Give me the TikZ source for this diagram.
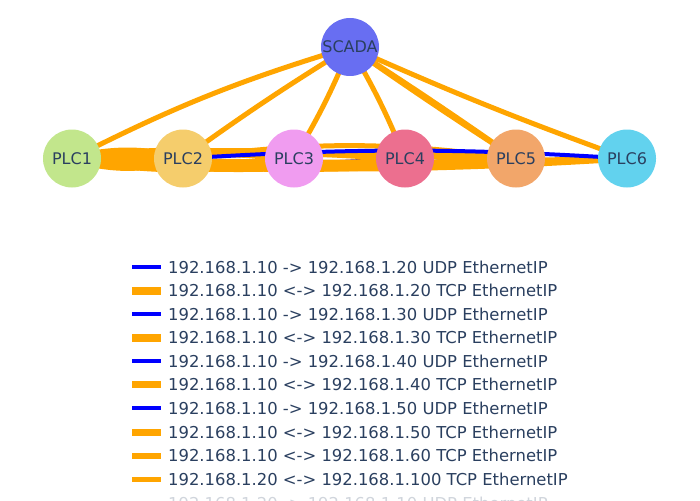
\documentclass[tikz,border=0pt]{standalone}
\usepackage{fontspec}
\setmainfont{DejaVu Sans}
\usetikzlibrary{backgrounds}
\definecolor{txt}{HTML}{2A3F5F}
\definecolor{tcpc}{HTML}{FFA500}
\definecolor{udpc}{HTML}{0000FF}
\definecolor{cS}{HTML}{686EF2}
\definecolor{c1}{HTML}{C2E68C}
\definecolor{c2}{HTML}{F5CD6C}
\definecolor{c3}{HTML}{F09CF0}
\definecolor{c4}{HTML}{EC6F8F}
\definecolor{c5}{HTML}{F2A66A}
\definecolor{c6}{HTML}{62D2EE}
\begin{document}
\begin{tikzpicture}[x=1pt,y=1pt,
  plc/.style={circle,minimum size=58pt,inner sep=0pt,text=txt,font=\fontsize{16}{18}\selectfont},
  tcp/.style={draw=tcpc,line width=#1},
  tcp/.default=5.5pt,
  udp/.style={draw=udpc,line width=4pt},
  lg/.style={anchor=west,inner sep=0pt,text=txt,font=\fontsize{16.4}{20}\selectfont},
  lgudp/.style={draw=udpc,line width=4pt},
  lgtcp/.style={draw=tcpc,line width=#1},
]
\useasboundingbox (0,0) rectangle (700,-500);
% nodes
\node[plc,fill=cS] (scada) at (350,-47) {SCADA};
\node[plc,fill=c1] (p1) at (72,-158.5) {PLC1};
\node[plc,fill=c2] (p2) at (183,-158.5) {PLC2};
\node[plc,fill=c3] (p3) at (294,-158.5) {PLC3};
\node[plc,fill=c4] (p4) at (405,-158.5) {PLC4};
\node[plc,fill=c5] (p5) at (516,-158.5) {PLC5};
\node[plc,fill=c6] (p6) at (627,-158.5) {PLC6};
% edges
\begin{pgfonlayer}{background}
  % 1.10 -> 1.20 UDP / TCP
  \draw[udp] (p1.center) to[bend right=10.6] (p2.center);
  \draw[tcp=8pt] (p1.center) to[bend right=15] (p2.center);
  \draw[tcp=8pt] (p1.center) to[bend left=12.4] (p2.center);
  % 1.30
  \draw[udp] (p1.center) to[bend right=5.3] (p3.center);
  \draw[tcp=8pt] (p1.center) to[bend right=8.8] (p3.center);
  \draw[tcp=8pt] (p1.center) to[bend left=6.2] (p3.center);
  % 1.40
  \draw[udp] (p1.center) to[bend right=3.5] (p4.center);
  \draw[tcp=7pt] (p1.center) to[bend right=5.9] (p4.center);
  \draw[tcp=7pt] (p1.center) to[bend left=4.1] (p4.center);
  % 1.50
  \draw[udp] (p1.center) to[bend right=2.6] (p5.center);
  \draw[tcp=7pt] (p1.center) to[bend right=4.4] (p5.center);
  \draw[tcp=7pt] (p1.center) to[bend left=2.2] (p5.center);
  % 1.60
  \draw[tcp=6pt] (p1.center) to[bend right=3.5] (p6.center);
  \draw[tcp=6pt] (p1.center) to[bend right=1.5] (p6.center);
  % SCADA links
  \draw[tcp=5pt] (p2.center) to[bend left=2] (scada.center);
  \draw[tcp=5pt] (p1.center) to[bend left=5] (scada.center);
  \draw[tcp=5pt] (p3.center) to[bend right=4] (scada.center);
  \draw[tcp=5pt] (scada.center) to[bend left=4] (p4.center);
  \draw[tcp=5pt] (scada.center) to[bend left=1] (p5.center);
  \draw[tcp=5pt] (scada.center) to[bend right=1] (p5.center);
  \draw[tcp=5pt] (scada.center) to[bend right=2] (p6.center);
  % further links
  \draw[tcp=5pt] (p2.center) to[bend left=7.6] (p5.center);
  \draw[udp] (p2.center) to[bend left=3.5] (p6.center);
\end{pgfonlayer}
% legend
\node[lg] (l1) at (168,-267) {192.168.1.10 -> 192.168.1.20 UDP EthernetIP};
\node[lg] (l2) at (168,-290.5) {192.168.1.10 <-> 192.168.1.20 TCP EthernetIP};
\node[lg] (l3) at (168,-314) {192.168.1.10 -> 192.168.1.30 UDP EthernetIP};
\node[lg] (l4) at (168,-337.6) {192.168.1.10 <-> 192.168.1.30 TCP EthernetIP};
\node[lg] (l5) at (168,-361.2) {192.168.1.10 -> 192.168.1.40 UDP EthernetIP};
\node[lg] (l6) at (168,-384.8) {192.168.1.10 <-> 192.168.1.40 TCP EthernetIP};
\node[lg] (l7) at (168,-408.4) {192.168.1.10 -> 192.168.1.50 UDP EthernetIP};
\node[lg] (l8) at (168,-432) {192.168.1.10 <-> 192.168.1.50 TCP EthernetIP};
\node[lg] (l9) at (168,-455.6) {192.168.1.10 <-> 192.168.1.60 TCP EthernetIP};
\node[lg] (l10) at (168,-479.2) {192.168.1.20 <-> 192.168.1.100 TCP EthernetIP};
\draw[lgudp] ([xshift=-36pt]l1.west) -- ([xshift=-7pt]l1.west);
\draw[lgtcp=8pt] ([xshift=-36pt]l2.west) -- ([xshift=-7pt]l2.west);
\draw[lgudp] ([xshift=-36pt]l3.west) -- ([xshift=-7pt]l3.west);
\draw[lgtcp=8pt] ([xshift=-36pt]l4.west) -- ([xshift=-7pt]l4.west);
\draw[lgudp] ([xshift=-36pt]l5.west) -- ([xshift=-7pt]l5.west);
\draw[lgtcp=7pt] ([xshift=-36pt]l6.west) -- ([xshift=-7pt]l6.west);
\draw[lgudp] ([xshift=-36pt]l7.west) -- ([xshift=-7pt]l7.west);
\draw[lgtcp=7pt] ([xshift=-36pt]l8.west) -- ([xshift=-7pt]l8.west);
\draw[lgtcp=6pt] ([xshift=-36pt]l9.west) -- ([xshift=-7pt]l9.west);
\draw[lgtcp=5pt] ([xshift=-36pt]l10.west) -- ([xshift=-7pt]l10.west);
\begin{scope}
  \clip (0,0) rectangle (700,-500);
  \node[lg,text=txt!22] (l11) at (168,-503) {192.168.1.20 -> 192.168.1.10 UDP EthernetIP};
\end{scope}
\end{tikzpicture}
\end{document}
